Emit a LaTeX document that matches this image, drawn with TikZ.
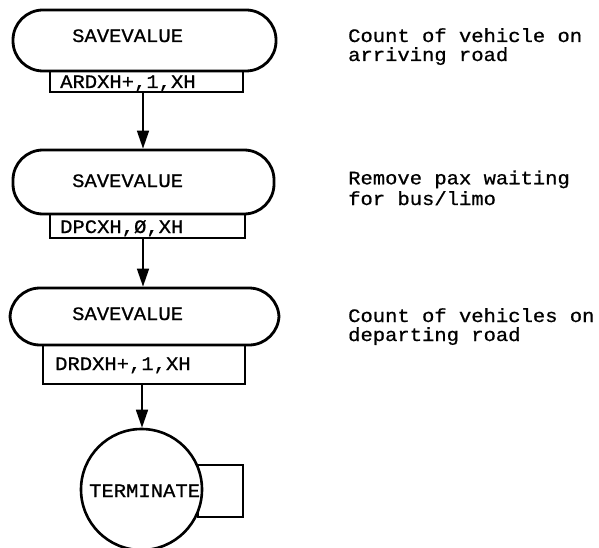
\documentclass[tikz,border=0pt]{standalone}
\usepackage{fontspec}
\newfontfamily\typew[FakeBold=0.8,FakeStretch=1.08]{Liberation Mono}
\usetikzlibrary{arrows.meta}
\begin{document}
\begin{tikzpicture}[x=1pt,y=-1pt,
  stadium/.style={draw, rectangle, line width=2.8pt, rounded corners=30pt},
  argbox/.style={draw, rectangle, line width=2.3pt},
  lbl/.style={inner sep=0pt, anchor=base west, font=\fontsize{19}{16}\selectfont\typew},
  note/.style={inner sep=0pt, anchor=base west, align=left, font=\fontsize{19}{17}\selectfont\typew},
  arr/.style={line width=1.7pt, -{Triangle[width=12pt,length=18pt]}}]
\useasboundingbox (0,0) rectangle (599,548);
% block 1
\node[stadium, minimum width=263pt, minimum height=61pt] (s1) at (144.5,40.5) {};
\node[argbox, minimum width=193pt, minimum height=21pt] (r1) at (146.5,81.5) {};
\node[lbl] (t1) at (72,42) {SAVEVALUE};
\node[lbl] (b1) at (60,88) {ARDXH+,1,XH};
% block 2
\node[stadium, minimum width=261pt, minimum height=64pt] (s2) at (143.5,182) {};
\node[argbox, minimum width=195pt, minimum height=24pt] (r2) at (147.5,226) {};
\node[lbl] (t2) at (72,187) {SAVEVALUE};
\node[lbl] (b2) at (60,233) {DPCXH,Ø,XH};
% block 3
\node[stadium, minimum width=269pt, minimum height=57pt] (s3) at (144.5,316.5) {};
\node[argbox, minimum width=202pt, minimum height=39pt] (r3) at (144,364.5) {};
\node[lbl] (t3) at (72,320) {SAVEVALUE};
\node[lbl] (b3) at (55,370) {DRDXH+,1,XH};
% terminate
\node[argbox, line width=2.5pt, minimum width=45pt, minimum height=52pt] (tb) at (220.5,491) {};
\node[circle, draw, fill=white, line width=2.6pt, minimum size=121pt, inner sep=0pt] (term) at (141.5,489.5) {};
\node[lbl] (tt) at (89,497) {TERMINATE};
% connectors
\coordinate (a1) at (143,92);
\coordinate (a2) at (143,238);
\coordinate (a3) at (142,384);
\draw[arr] (a1) -- (a1 |- s2.north);
\draw[arr] (a2) -- (a2 |- s3.north);
\draw[arr] (a3) -- (a3 |- term.north);
% notes (anchored at the baseline of the last line)
\node[note] (n1) at (348,61) {Count of vehicle on\\[2pt]arriving road};
\node[note] (n2) at (348,205) {Remove pax waiting\\[2pt]for bus/limo};
\node[note] (n3) at (348,341) {Count of vehicles on\\[2pt]departing road};
\end{tikzpicture}
\end{document}
